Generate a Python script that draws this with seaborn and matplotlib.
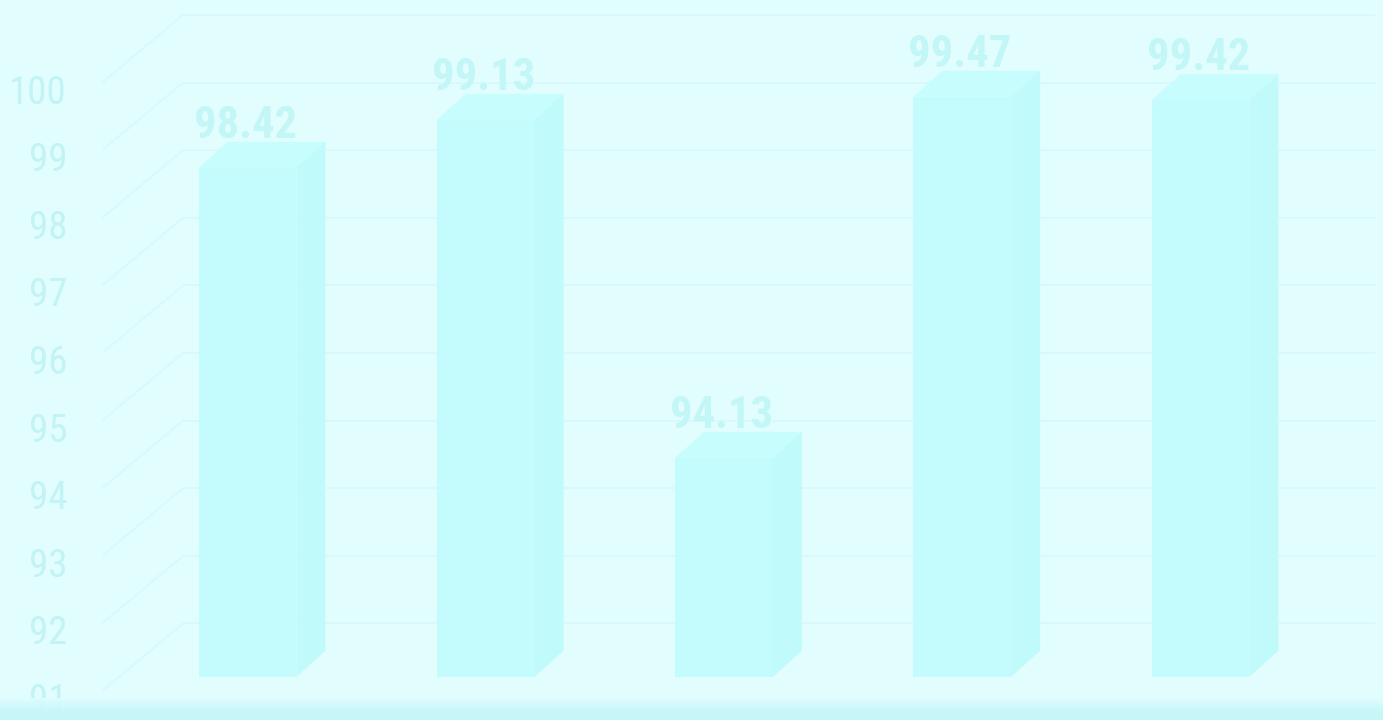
import matplotlib
matplotlib.use("Agg")
import matplotlib.pyplot as plt
import seaborn as sns
import pandas as pd
import numpy as np
from matplotlib.patches import Polygon, Rectangle
from matplotlib.colors import to_rgb

# ---- data ----
categories = ["A", "B", "C", "D", "E"]
values = [98.42, 99.13, 94.13, 99.47, 99.42]
value_labels = ["98.42", "99.13", "94.13", "99.47", "99.42"]
ytick_values = [91, 92, 93, 94, 95, 96, 97, 98, 99, 100]
ytick_labels = ["91", "92", "93", "94", "95", "96", "97", "98", "99", "100"]

# ---- style ----
BG = "#E1FDFE"
BAR_FRONT = "#C4FCFD"
BAR_TOP = "#C7FDFD"
BAR_SIDE = "#C1FAFB"
TICK_TEXT = "#C2F3F5"
VALUE_TEXT = "#C2F6F7"
GRID = "#D7F9FB"

sns.set_theme(style="white")
plt.rcParams['font.family'] = ['Roboto Condensed', 'Liberation Sans Narrow', 'Arial Narrow',
                               'Liberation Sans', 'DejaVu Sans']

fig = plt.figure(figsize=(13.83, 7.20), dpi=100, facecolor=BG)
ax = fig.add_axes([0, 0, 1, 1])
ax.set_facecolor(BG)

df = pd.DataFrame({"cat": categories, "val": values})
sns.barplot(data=df, x="cat", y="val", color=BAR_FRONT, saturation=1,
            width=0.41, errorbar=None, ax=ax, zorder=3, linewidth=0)

bar_base = 90.89
DX, DY = 0.1217, 0.385

for p, v in zip(ax.patches, values):
    p.set_y(bar_base)
    p.set_height(v - bar_base)
    x0 = p.get_x()
    x1 = x0 + p.get_width()
    top = Polygon([(x0, v), (x0 + DX, v + DY), (x1 + DX, v + DY), (x1, v)],
                  closed=True, facecolor=BAR_TOP, edgecolor="none", zorder=3)
    side = Polygon([(x1, v), (x1 + DX, v + DY), (x1 + DX, bar_base + DY), (x1, bar_base)],
                   closed=True, facecolor=BAR_SIDE, edgecolor="none", zorder=3)
    ax.add_patch(top)
    ax.add_patch(side)

# walls (left side wall diagonals + back wall horizontals)
wall_front_x, wall_back_x, wall_right_x = -0.6065, -0.2707, 4.732
for t in ytick_values:
    ax.plot([wall_front_x, wall_back_x], [t - 0.31, t + 0.68], color=GRID, lw=1.3, zorder=1)
    ax.plot([wall_back_x, wall_right_x], [t + 0.68, t + 0.68], color=GRID, lw=1.3, zorder=1)

# y tick labels
for t, lab in zip(ytick_values, ytick_labels):
    ax.text(-0.7576, t - 0.63, lab, ha="right", va="baseline",
            fontsize=28, color=TICK_TEXT, zorder=4)

# value labels
for i, (v, lab) in enumerate(zip(values, value_labels)):
    ax.text(i - 0.01, v + 0.445, lab, ha="center", va="baseline",
            fontsize=32, fontweight="bold", color=VALUE_TEXT, zorder=4)

ax.set_xlim(-1.039, 4.766)
ax.set_ylim(90.251, 100.902)
ax.axis("off")

# bottom band (soft gradient)
c_top = np.array(to_rgb(BG))
c_bot = np.array(to_rgb("#C6F6F8"))
n = 22
for k in range(n):
    f = (k + 1) / n
    col = c_top + (c_bot - c_top) * min(1.0, f * 1.6)
    fig.patches.append(Rectangle((0, (n - 1 - k) / 720), 1, 1 / 720 + 0.0001,
                                 transform=fig.transFigure, facecolor=col,
                                 edgecolor="none", zorder=5, alpha=0.9))

fig.savefig("out.png", dpi=100, facecolor=BG)
